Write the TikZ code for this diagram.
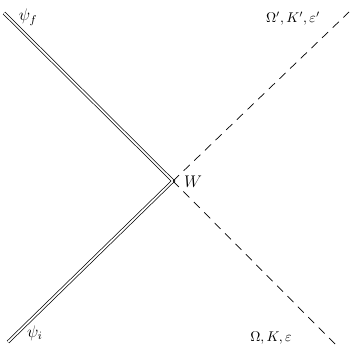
\documentclass[tikz,border=0pt]{standalone}
\usepackage{amsmath,amssymb}
\usetikzlibrary{positioning}

\begin{document}
\begin{tikzpicture}[
  x=0.25mm,y=-0.25mm,
  font=\normalsize,
  wl/.style={double,double distance=1.3pt,line width=0.5pt,line join=miter},
  dl/.style={dash pattern=on 6pt off 4.5pt,line width=0.5pt},
  lbl/.style={inner sep=1pt}]
\useasboundingbox (0,0) rectangle (352,353);
\coordinate (w) at (173,181);
\coordinate (f0) at (4,13);
\coordinate (i0) at (8,342);
\coordinate (o1) at (349,12);
\coordinate (o0) at (338,347);
\draw[wl] (f0) -- (w) -- (i0);
\draw[dl] (w) -- (o1);
\draw[dl] (w) -- (o0);
\node[lbl] (pf) at (28,17)   {\large$\psi_f$};
\node[lbl] (pi) at (35,333)  {\large$\psi_i$};
\node[lbl] (vw) at (193,182) {\large$W$};
\node[lbl] (out) at (293,19) {$\Omega',K',\varepsilon'$};
\node[lbl] (in) at (271,338) {$\Omega,K,\varepsilon$};
\end{tikzpicture}
\end{document}
